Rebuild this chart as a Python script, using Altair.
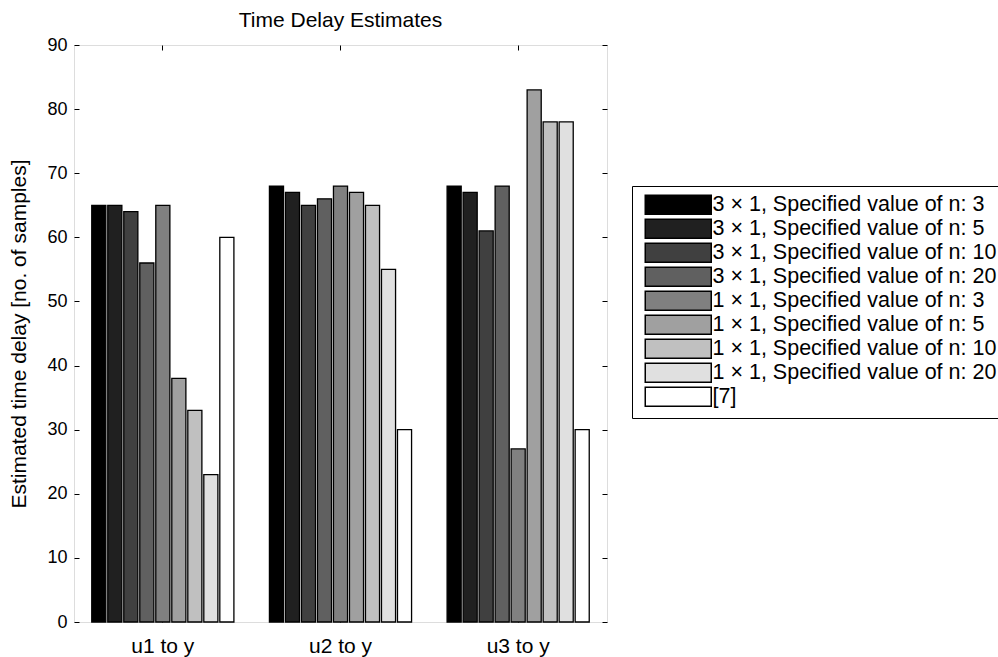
import altair as alt
import pandas as pd

groups = ["u1 to y", "u2 to y", "u3 to y"]
series = [
    "3 × 1, Specified value of n: 3",
    "3 × 1, Specified value of n: 5",
    "3 × 1, Specified value of n: 10",
    "3 × 1, Specified value of n: 20",
    "1 × 1, Specified value of n: 3",
    "1 × 1, Specified value of n: 5",
    "1 × 1, Specified value of n: 10",
    "1 × 1, Specified value of n: 20",
    "[7]",
]
u1_values = [65, 65, 64, 56, 65, 38, 33, 23, 60]
u2_values = [68, 67, 65, 66, 68, 67, 65, 55, 30]
u3_values = [68, 67, 61, 68, 27, 83, 78, 78, 30]
grays = ["#000000", "#202020", "#404040", "#606060", "#808080",
         "#a0a0a0", "#c0c0c0", "#e0e0e0", "#ffffff"]
y_ticks = list(range(0, 91, 10))

rows = []
for g, vals in zip(groups, [u1_values, u2_values, u3_values]):
    for s, v in zip(series, vals):
        rows.append({"group": g, "series": s, "value": v})
df = pd.DataFrame(rows)

W, H = 533, 577
FONT = "Liberation Sans"

xscale = alt.Scale(type="band", domain=groups, paddingInner=0.2, paddingOuter=0.1)
yscale = alt.Scale(domain=[0, 90], nice=False, zero=True)

bars = alt.Chart(df).mark_bar(stroke="black", strokeWidth=1.3).encode(
    x=alt.X("group:N", scale=xscale, sort=groups,
            axis=alt.Axis(title=None, labelAngle=0, ticks=False, domain=False,
                          labelFontSize=21, labelPadding=13, labelColor="black",
                          labelFont=FONT)),
    xOffset=alt.XOffset("series:N", sort=series,
                        scale=alt.Scale(domain=series, paddingInner=0.12, paddingOuter=0)),
    y=alt.Y("value:Q", scale=yscale,
            axis=alt.Axis(values=y_ticks, title="Estimated time delay [no. of samples]",
                          ticks=False, domain=False, grid=False,
                          labelFontSize=18, labelPadding=7, labelColor="black",
                          labelFont=FONT, titleFont=FONT, titleFontSize=21,
                          titleFontWeight="normal", titleColor="black", titlePadding=17)),
    color=alt.Color("series:N", sort=series,
                    scale=alt.Scale(domain=series, range=grays),
                    legend=alt.Legend(
                        title=None, orient="none", legendX=558, legendY=141,
                        symbolType="M-1,-1H5.947V1H-1Z", symbolSize=361,
                        symbolStrokeColor="black", symbolStrokeWidth=1.5,
                        symbolOpacity=1, symbolOffset=4,
                        labelFontSize=21.5, labelFont=FONT, labelColor="black",
                        labelOffset=47, labelLimit=600, rowPadding=-2.5,
                        padding=8, strokeColor="black", fillColor="white")),
)

tick_axis_a = alt.Chart(df).mark_point(opacity=0).encode(
    x=alt.X("group:N", scale=xscale, sort=groups,
            axis=alt.Axis(orient="bottom", offset=-H, labels=False, ticks=True,
                          tickSize=5, tickColor="black", domain=False, title=None, grid=False)),
    y=alt.Y("value:Q", scale=yscale,
            axis=alt.Axis(orient="right", offset=-W, values=y_ticks, labels=False,
                          ticks=True, tickSize=5, tickColor="black", domain=False,
                          title=None, grid=False)),
)

tick_axis_b = alt.Chart(df).mark_point(opacity=0).encode(
    x=alt.X("group:N", scale=xscale, sort=groups,
            axis=alt.Axis(orient="top", offset=-H, labels=False, ticks=True,
                          tickSize=5, tickColor="black", domain=False, title=None, grid=False)),
    y=alt.Y("value:Q", scale=yscale,
            axis=alt.Axis(orient="left", offset=-W, values=y_ticks, labels=False,
                          ticks=True, tickSize=5, tickColor="black", domain=False,
                          title=None, grid=False)),
)

chart = alt.layer(bars, tick_axis_a, tick_axis_b).resolve_axis(
    x="independent", y="independent"
).properties(
    width=W, height=H,
    title=alt.Title("Time Delay Estimates", fontSize=21, fontWeight="normal",
                    font=FONT, color="black", anchor="middle", offset=5,
                    frame="group"),
    padding={"left": 74, "top": 45, "right": 391, "bottom": 35},
    autosize=alt.AutoSizeParams(type="none"),
).configure_view(stroke="black", strokeWidth=1).configure(background="white")

chart.save("out.html", embed_options={"renderer": "svg", "actions": False})
